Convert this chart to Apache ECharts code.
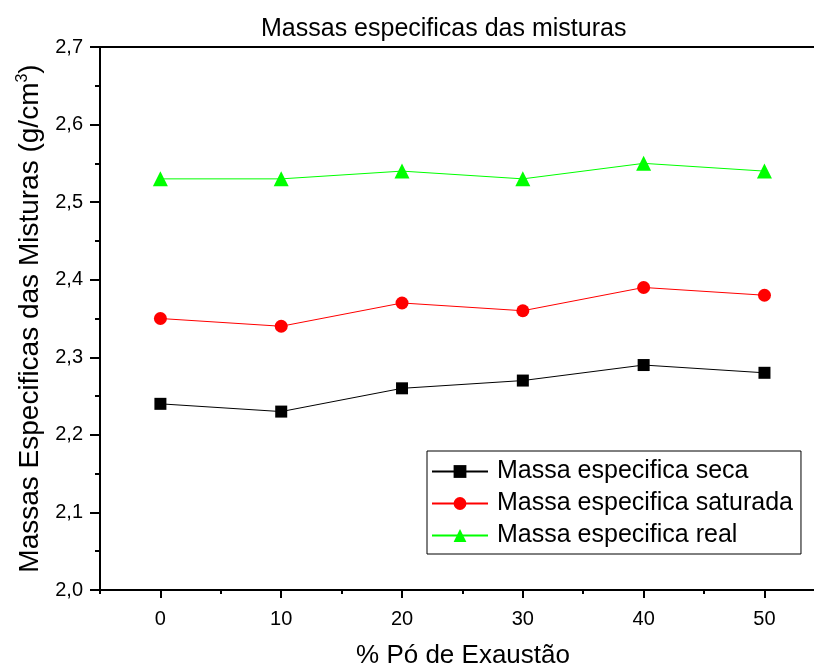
<!DOCTYPE html>
<html>
<head>
<meta charset="utf-8">
<script src="https://cdn.jsdelivr.net/npm/echarts@6/dist/echarts.min.js"></script>
<style>
  html, body { margin: 0; padding: 0; background: #fff; }
  #chart { width: 814px; height: 666px; }
</style>
</head>
<body>
<div id="chart"></div>
<script>
// % Pó de Exaustão
var xValues = [0, 10, 20, 30, 40, 50];
var xMajorTicks = [0, 10, 20, 30, 40, 50];
var xMinorTicks = [-5, 5, 15, 25, 35, 45];

var seriesNames = ['Massa especifica seca', 'Massa especifica saturada', 'Massa especifica real'];
var seca = [2.24, 2.23, 2.26, 2.27, 2.29, 2.28];
var saturada = [2.35, 2.34, 2.37, 2.36, 2.39, 2.38];
var real = [2.53, 2.53, 2.54, 2.53, 2.55, 2.54];

function pairs(vals) {
    return xValues.map(function (x, i) { return [x, vals[i]]; });
}

var font = 'Liberation Sans, Arial, sans-serif';

var option = {
    animation: false,
    backgroundColor: '#fff',
    title: {
        text: 'Massas especificas das misturas',
        left: 256,
        top: 12,
        textStyle: { fontFamily: font, fontSize: 25, fontWeight: 'normal', color: '#000' }
    },
    legend: {
        orient: 'vertical',
        left: 427,
        top: 451,
        padding: [8, 8, 6, 4],
        itemGap: 7,
        itemWidth: 56,
        itemHeight: 16,
        borderColor: '#000',
        borderWidth: 1,
        backgroundColor: '#fff',
        textStyle: { fontFamily: font, fontSize: 25, color: '#000', padding: [0, 0, 0, 4] },
        data: seriesNames
    },
    grid: {
        left: 100,
        top: 47,
        right: 0,
        bottom: 76,
        outerBoundsMode: 'none',
        containLabel: false,
        show: false
    },
    xAxis: [{
        type: 'value',
        min: -5,
        max: 54.1,
        name: '% Pó de Exaustão',
        nameLocation: 'middle',
        nameGap: 53,
        nameTextStyle: { fontFamily: font, fontSize: 26, color: '#000', padding: [0, 0, 0, 12] },
        axisLine: { show: true, onZero: false, lineStyle: { color: '#000', width: 2 } },
        axisTick: { show: true, customValues: xMajorTicks, length: 8, lineStyle: { color: '#000', width: 2 } },
        axisLabel: { customValues: xMajorTicks, margin: 19, fontFamily: font, fontSize: 20, color: '#000' },
        splitLine: { show: false }
    }, {
        type: 'value',
        min: -5,
        max: 54.1,
        position: 'bottom',
        axisLine: { show: false, onZero: false },
        axisTick: { show: true, customValues: xMinorTicks, length: 4, lineStyle: { color: '#000', width: 2 } },
        axisLabel: { show: false },
        splitLine: { show: false }
    }, {
        type: 'value',
        min: -5,
        max: 54.1,
        position: 'top',
        axisLine: { show: true, onZero: false, lineStyle: { color: '#000', width: 2 } },
        axisTick: { show: false },
        axisLabel: { show: false },
        splitLine: { show: false }
    }],
    yAxis: {
        type: 'value',
        min: 2.0,
        max: 2.7,
        interval: 0.1,
        name: '{a|Massas Especificas das Misturas (g/cm}{s|3}{a|)}',
        nameLocation: 'middle',
        nameGap: 55,
        nameRotate: 90,
        nameTextStyle: {
            rich: {
                a: { fontFamily: font, fontSize: 28, color: '#000' },
                s: { fontFamily: font, fontSize: 16, color: '#000', verticalAlign: 'top', padding: [0, 0, 14, 0] }
            }
        },
        axisLine: { show: true, onZero: false, lineStyle: { color: '#000', width: 2 } },
        axisTick: { show: true, length: 10, lineStyle: { color: '#000', width: 2 } },
        minorTick: { show: true, splitNumber: 2, length: 5, lineStyle: { color: '#000', width: 2 } },
        axisLabel: {
            margin: 17,
            fontFamily: font,
            fontSize: 20,
            color: '#000',
            formatter: function (v) { return v.toFixed(1).replace('.', ','); }
        },
        splitLine: { show: false }
    },
    series: [{
        name: seriesNames[0],
        type: 'line',
        data: pairs(seca),
        symbol: 'rect',
        symbolSize: 12,
        lineStyle: { color: '#000', width: 1 },
        itemStyle: { color: '#000' }
    }, {
        name: seriesNames[1],
        type: 'line',
        data: pairs(saturada),
        symbol: 'circle',
        symbolSize: 13,
        lineStyle: { color: '#ff0000', width: 1 },
        itemStyle: { color: '#ff0000' }
    }, {
        name: seriesNames[2],
        type: 'line',
        data: pairs(real),
        symbol: 'triangle',
        symbolSize: 15,
        lineStyle: { color: '#00ff00', width: 1 },
        itemStyle: { color: '#00ff00' }
    }]
};

var myChart = echarts.init(document.getElementById('chart'));
myChart.setOption(option);
</script>
</body>
</html>
